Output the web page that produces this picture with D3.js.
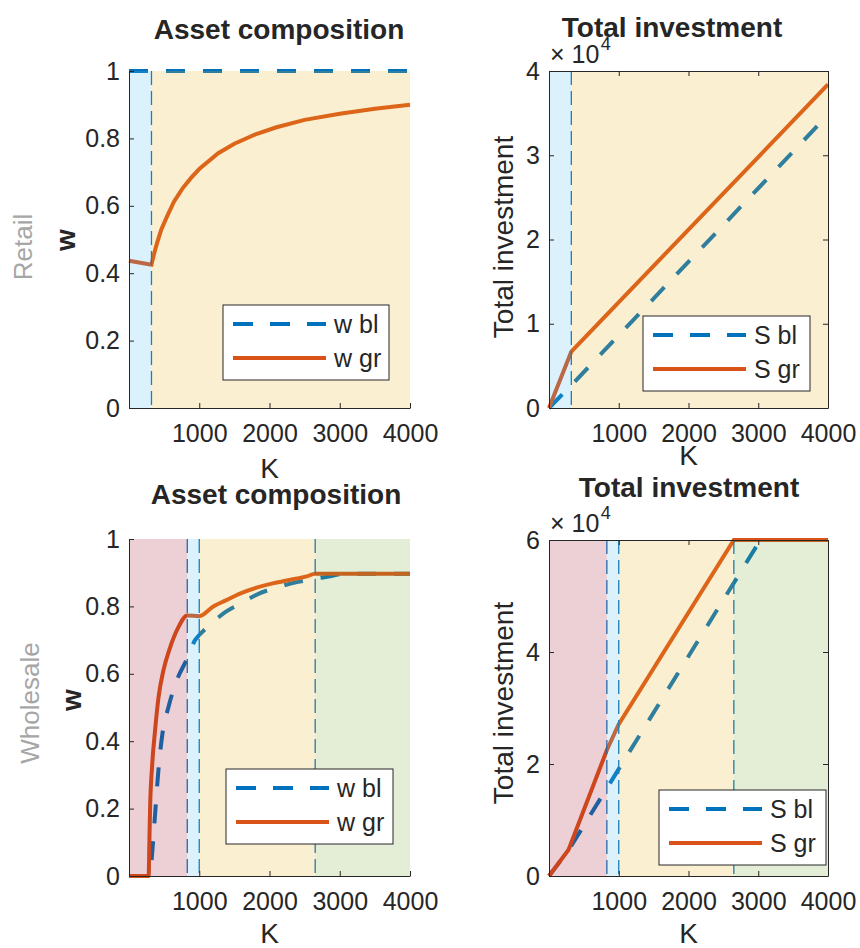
<!DOCTYPE html>
<html>
<head>
<meta charset="utf-8">
<script src="https://cdn.jsdelivr.net/npm/d3@7"></script>
<style>
  body { margin: 0; background: #fff; }
  text { font-family: "Liberation Sans", Arial, Helvetica, sans-serif; fill: #262626; }
</style>
</head>
<body>
<svg id="fig" width="860" height="948"></svg>
<script>
// Values.

const kTicks = [1000, 2000, 3000, 4000]
const wTicks = [0, 0.2, 0.4, 0.6, 0.8, 1]
const sTicksRetail = [0, 10000, 20000, 30000, 40000]
const sTicksWholesale = [0, 20000, 40000, 60000]

// region edges in K
const retailEdges = [0, 320, 4000]
const wholesaleEdges = [0, 830, 1000, 2650, 4000]

// Retail, asset composition
const retailWblK = [0, 4000]
const retailWbl = [1, 1]
const retailWgrK = [0, 320, 360, 400, 460, 540, 640, 760, 880, 1000, 1270, 1500, 1800, 2100, 2500, 3000, 3500, 4000]
const retailWgr = [0.437, 0.425, 0.46, 0.49, 0.53, 0.568, 0.612, 0.651, 0.682, 0.709, 0.756, 0.784, 0.812, 0.833, 0.855, 0.873, 0.888, 0.9]

// Retail, total investment
const retailSblK = [0, 320, 4000]
const retailSbl = [0, 2700, 34800]
const retailSgrK = [0, 320, 4000]
const retailSgr = [0, 6700, 38400]

// Wholesale, asset composition
const wholesaleWblK = [0, 300, 323, 361, 418, 475, 560, 679, 830, 940, 1000, 1150, 1370, 1600, 1850, 2100, 2390, 2650, 2900, 3050, 4000]
const wholesaleWbl = [0, 0, 0.05, 0.154, 0.312, 0.421, 0.5, 0.58, 0.646, 0.7, 0.715, 0.745, 0.783, 0.81, 0.838, 0.856, 0.872, 0.882, 0.891, 0.897, 0.897]
const wholesaleWgrK = [0, 280, 290, 300, 330, 370, 420, 490, 580, 700, 830, 1000, 1200, 1370, 1580, 1840, 2060, 2300, 2530, 2650, 4000]
const wholesaleWgr = [0, 0, 0.1, 0.2, 0.33, 0.43, 0.53, 0.61, 0.675, 0.737, 0.773, 0.771, 0.8, 0.817, 0.838, 0.857, 0.869, 0.879, 0.889, 0.897, 0.897]

// Wholesale, total investment
const wholesaleSblK = [0, 280, 3030, 4000]
const wholesaleSbl = [0, 4600, 60000, 60000]
const wholesaleSgrK = [0, 280, 830, 1000, 2650, 4000]
const wholesaleSgr = [0, 4700, 22500, 27100, 60000, 60000]

const BLUE = "#0072BD"
const ORANGE = "#D95319"
const REGION_COLORS = {
  retail: ["#4DBEEE", "#EDB120"],
  wholesale: ["#A2142F", "#4DBEEE", "#EDB120", "#77AC30"]
}

const svg = d3.select("#fig")
svg.append("rect").attr("width", 860).attr("height", 948).attr("fill", "#fff")

function drawPanel(p) {
  const g = svg.append("g")
  const x = d3.scaleLinear().domain([0, 4000]).range([p.left, p.right])
  const y = d3.scaleLinear().domain(p.yDomain).range([p.bottom, p.top])

  // lines first, the shaded regions go on top with transparency
  p.series.forEach(s => {
    const pts = s.k.map((k, i) => [k, s.v[i]])
    const line = d3.line().x(d => x(d[0])).y(d => y(d[1]))
    if (p.smooth) line.curve(d3.curveMonotoneX)
    g.append("path")
      .attr("d", line(pts))
      .attr("fill", "none")
      .attr("stroke", s.color)
      .attr("stroke-width", 4)
      .attr("stroke-dasharray", s.dashed ? "19,18" : null)
  })

  // region boundaries
  p.edges.slice(1, -1).forEach(e => {
    g.append("line")
      .attr("x1", x(e)).attr("x2", x(e))
      .attr("y1", p.top).attr("y2", p.bottom)
      .attr("stroke", BLUE).attr("stroke-width", 1.3)
      .attr("stroke-dasharray", "14,6")
  })

  p.edges.slice(0, -1).forEach((e, i) => {
    g.append("rect")
      .attr("x", x(e)).attr("y", p.top)
      .attr("width", x(p.edges[i + 1]) - x(e))
      .attr("height", p.bottom - p.top)
      .attr("fill", p.colors[i]).attr("fill-opacity", 0.2)
  })

  // axes
  const ax = g.append("g").attr("transform", `translate(${p.left},0)`)
    .call(d3.axisLeft(y).tickValues(p.yTicks).tickSizeInner(-5).tickSizeOuter(0).tickPadding(9).tickFormat(p.yFormat))
  const bx = g.append("g").attr("transform", `translate(0,${p.bottom})`)
    .call(d3.axisBottom(x).tickValues(kTicks).tickSizeInner(-5).tickSizeOuter(0).tickPadding(16).tickFormat(d3.format("d")))
  const axes = [ax, bx]
  if (p.box) {
    axes.push(g.append("g").attr("transform", `translate(${p.right},0)`)
      .call(d3.axisRight(y).tickValues(p.yTicks).tickSizeInner(-5).tickSizeOuter(0).tickFormat("")))
    axes.push(g.append("g").attr("transform", `translate(0,${p.top})`)
      .call(d3.axisTop(x).tickValues(kTicks).tickSizeInner(-5).tickSizeOuter(0).tickFormat("")))
  }
  axes.forEach(a => {
    a.attr("font-size", null).attr("font-family", null)
    a.selectAll("path, line").attr("stroke", "#262626").attr("stroke-width", 1)
    a.selectAll("text").attr("font-size", 25).attr("fill", "#262626")
  })

  if (p.exponent) {
    const t = g.append("text").attr("x", p.left + 1).attr("y", p.top - 8.5).attr("font-size", 25)
    t.append("tspan").text("\u00d7")
    t.append("tspan").attr("x", p.left + 22.5).text("10")
    t.append("tspan").attr("font-size", 18).attr("dx", 1.5).attr("dy", -12.5).text("4")
  }

  // legend
  const lg = g.append("g").attr("transform", `translate(${p.legend[0]},${p.legend[1]})`)
  lg.append("rect").attr("width", p.legend[2]).attr("height", 75)
    .attr("fill", "#fff").attr("stroke", "#262626").attr("stroke-width", 1)
  p.series.forEach((s, i) => {
    const yy = 19 + i * 34
    lg.append("line").attr("x1", 10).attr("x2", 103).attr("y1", yy).attr("y2", yy)
      .attr("stroke", s.color).attr("stroke-width", 4)
      .attr("stroke-dasharray", s.dashed ? "20,17" : null)
    lg.append("text").attr("x", 111).attr("y", yy).attr("dy", "0.35em")
      .attr("font-size", 25).text(s.name)
  })

  // labels
  g.append("text").attr("x", p.titleX).attr("y", p.titleY)
    .attr("text-anchor", "middle").attr("font-size", 28).attr("font-weight", "bold")
    .attr("fill", "#000").text(p.title)
  g.append("text").attr("x", (p.left + p.right) / 2).attr("y", p.xLabelY)
    .attr("text-anchor", "middle").attr("font-size", 28).text("K")
  g.append("text")
    .attr("transform", `translate(${p.yLabelX},${p.yLabelY}) rotate(-90)`)
    .attr("text-anchor", "middle").attr("dy", "0.35em")
    .attr("font-size", 28).attr("font-weight", p.yLabelBold ? "bold" : null)
    .text(p.yLabel)
  if (p.rowLabel) {
    g.append("text")
      .attr("transform", `translate(${p.rowLabel[1]},${p.rowLabel[2]}) rotate(-90)`)
      .attr("text-anchor", "middle").attr("dy", "0.35em")
      .attr("font-size", 26).attr("font-family", "Roboto, 'Liberation Sans', sans-serif")
      .attr("font-weight", 300).style("fill", "#a6a6a6").text(p.rowLabel[0])
  }
}

const wFormat = d => String(+d.toFixed(1))
const sFormat = d => String(d / 10000)

drawPanel({
  left: 129, right: 410, top: 71, bottom: 408,
  yDomain: [0, 1], yTicks: wTicks, yFormat: wFormat, box: false, smooth: false,
  edges: retailEdges, colors: REGION_COLORS.retail,
  series: [
    { name: "w bl", k: retailWblK, v: retailWbl, color: BLUE, dashed: true },
    { name: "w gr", k: retailWgrK, v: retailWgr, color: ORANGE, dashed: false }
  ],
  legend: [223, 305, 166],
  title: "Asset composition", titleX: 279, titleY: 39,
  xLabelY: 478, yLabel: "w", yLabelBold: true, yLabelX: 65, yLabelY: 240,
  rowLabel: ["Retail", 23, 247]
})

drawPanel({
  left: 549, right: 828, top: 71, bottom: 408,
  yDomain: [0, 40000], yTicks: sTicksRetail, yFormat: sFormat, box: true, exponent: true, smooth: false,
  edges: retailEdges, colors: REGION_COLORS.retail,
  series: [
    { name: "S bl", k: retailSblK, v: retailSbl, color: BLUE, dashed: true },
    { name: "S gr", k: retailSgrK, v: retailSgr, color: ORANGE, dashed: false }
  ],
  legend: [643, 316, 167],
  title: "Total investment", titleX: 672, titleY: 37,
  xLabelY: 465, yLabel: "Total investment", yLabelX: 503, yLabelY: 237
})

drawPanel({
  left: 129, right: 410, top: 539, bottom: 876,
  yDomain: [0, 1], yTicks: wTicks, yFormat: wFormat, box: false, smooth: true,
  edges: wholesaleEdges, colors: REGION_COLORS.wholesale,
  series: [
    { name: "w bl", k: wholesaleWblK, v: wholesaleWbl, color: BLUE, dashed: true },
    { name: "w gr", k: wholesaleWgrK, v: wholesaleWgr, color: ORANGE, dashed: false }
  ],
  legend: [226, 769, 167],
  title: "Asset composition", titleX: 276, titleY: 504,
  xLabelY: 943, yLabel: "w", yLabelBold: true, yLabelX: 71, yLabelY: 700,
  rowLabel: ["Wholesale", 30, 703]
})

drawPanel({
  left: 549, right: 828, top: 540, bottom: 876,
  yDomain: [0, 60000], yTicks: sTicksWholesale, yFormat: sFormat, box: true, exponent: true, smooth: false,
  edges: wholesaleEdges, colors: REGION_COLORS.wholesale,
  series: [
    { name: "S bl", k: wholesaleSblK, v: wholesaleSbl, color: BLUE, dashed: true },
    { name: "S gr", k: wholesaleSgrK, v: wholesaleSgr, color: ORANGE, dashed: false }
  ],
  legend: [659, 790, 167],
  title: "Total investment", titleX: 689, titleY: 497,
  xLabelY: 943, yLabel: "Total investment", yLabelX: 503, yLabelY: 703
})
</script>
</body>
</html>
